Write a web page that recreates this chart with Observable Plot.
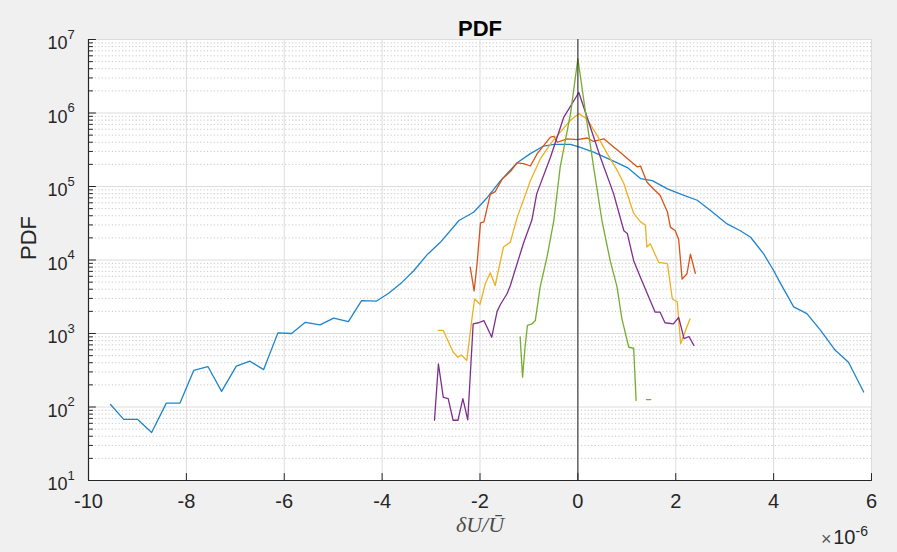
<!DOCTYPE html>
<html>
<head>
<meta charset="utf-8">
<script src="https://cdn.jsdelivr.net/npm/d3@7"></script>
<script src="https://cdn.jsdelivr.net/npm/@observablehq/plot@0.6"></script>
<style>
  html, body { margin: 0; padding: 0; background: #f0f0f0; }
  #chart svg { display: block; }
</style>
</head>
<body>
<div id="chart"></div>
<script>
// ---- tick labels ----
const xTicks = [-10, -8, -6, -4, -2, 0, 2, 4, 6];
const yExps = [1, 2, 3, 4, 5, 6, 7];
const yTicks = [1e1, 1e2, 1e3, 1e4, 1e5, 1e6, 1e7];

// ---- series (x in units of 1e-6) ----
const blueX = [-9.55, -9.28, -9.0, -8.71, -8.41, -8.13, -7.85, -7.56, -7.28, -6.98, -6.70, -6.42, -6.13, -5.85, -5.57, -5.27, -4.99, -4.69, -4.42, -4.12, -3.86, -3.59, -3.35, -3.07, -2.81, -2.43, -2.13, -1.85, -1.58, -1.24, -0.97, -0.70, -0.49, -0.15, 0.02, 0.32, 0.73, 1.01, 1.28, 1.52, 1.83, 2.10, 2.44, 2.71, 3.05, 3.32, 3.53, 3.80, 4.00, 4.14, 4.41, 4.68, 4.96, 5.26, 5.53, 5.84];
const blueY = [108, 68, 68, 45, 113, 113, 314, 355, 163, 359, 420, 323, 1020, 1000, 1420, 1310, 1620, 1450, 2800, 2750, 3550, 5000, 7200, 12000, 17400, 34500, 44700, 71000, 120000, 210000, 280000, 355000, 375000, 375000, 345000, 293000, 222000, 181000, 128000, 120000, 93000, 79000, 65000, 47000, 31000, 25000, 20400, 12000, 7200, 4800, 2300, 1860, 1100, 590, 406, 160];

const orangeX = [-2.20, -2.12, -2.06, -1.99, -1.92, -1.79, -1.69, -1.55, -1.38, -1.24, -1.11, -0.97, -0.83, -0.70, -0.56, -0.49, -0.42, -0.22, -0.01, 0.19, 0.32, 0.53, 0.73, 0.87, 1.01, 1.21, 1.28, 1.41, 1.54, 1.68, 1.83, 1.89, 1.99, 2.06, 2.13, 2.23, 2.30, 2.40];
const orangeY = [8000, 3800, 8900, 32000, 33000, 78000, 85000, 125000, 160000, 210000, 205000, 190000, 280000, 360000, 470000, 480000, 400000, 445000, 435000, 457000, 410000, 445000, 345000, 290000, 240000, 185000, 190000, 115000, 93000, 76000, 45000, 28000, 25000, 19000, 5500, 6500, 12000, 6600];

const yellowX = [-2.85, -2.75, -2.55, -2.45, -2.38, -2.27, -2.17, -2.11, -2.00, -1.89, -1.79, -1.69, -1.52, -1.38, -1.24, -0.97, -0.77, -0.56, -0.36, -0.15, 0.02, 0.19, 0.39, 0.60, 0.80, 0.94, 1.14, 1.28, 1.38, 1.41, 1.48, 1.65, 1.83, 1.93, 2.03, 2.10, 2.20, 2.29];
const yellowY = [1100, 1100, 560, 475, 510, 430, 1500, 2950, 2500, 4800, 6700, 4500, 15000, 17500, 38000, 120000, 235000, 380000, 550000, 800000, 980000, 820000, 500000, 280000, 167000, 110000, 43000, 33000, 30000, 15000, 16600, 9300, 8900, 2950, 2700, 725, 1100, 1580];

const purpleX = [-2.93, -2.85, -2.75, -2.65, -2.55, -2.45, -2.35, -2.25, -2.14, -2.03, -1.92, -1.76, -1.65, -1.58, -1.45, -1.38, -1.24, -1.11, -0.94, -0.84, -0.56, -0.29, 0.02, 0.19, 0.46, 0.73, 0.94, 1.01, 1.14, 1.28, 1.48, 1.58, 1.68, 1.78, 1.95, 2.06, 2.17, 2.27, 2.37];
const purpleY = [66, 385, 135, 130, 66, 66, 130, 67, 1350, 1400, 1500, 890, 2000, 2500, 3450, 4500, 9000, 17000, 35000, 80000, 250000, 870000, 1900000, 870000, 250000, 80000, 25000, 23000, 9800, 5800, 2800, 1950, 1950, 1400, 1350, 1650, 850, 910, 690];

const greenX = [-1.18, -1.13, -1.08, -1.03, -0.94, -0.87, -0.77, -0.63, -0.49, -0.36, -0.15, 0.00, 0.16, 0.32, 0.49, 0.66, 0.80, 0.90, 1.04, 1.14, 1.19, 1.30, 1.40, 1.49];
const greenY = [900, 255, 650, 1290, 1350, 1500, 4300, 11000, 35000, 186000, 980000, 5500000, 980000, 186000, 35000, 9800, 4300, 1580, 650, 630, 123, null, 126, 126];

const seriesNames = ["s1", "s2", "s3", "s4", "s5"];
const seriesColors = ["#1f84cc", "#D95319", "#EDB120", "#7E2F8E", "#77AC30"];
const seriesX = [blueX, orangeX, yellowX, purpleX, greenX];
const seriesY = [blueY, orangeY, yellowY, purpleY, greenY];

const data = [];
seriesNames.forEach((name, s) => {
  seriesX[s].forEach((x, i) => data.push({series: name, x, y: seriesY[s][i]}));
});

const minorY = [];
for (let e = 1; e < 7; e++) for (let k = 2; k <= 9; k++) minorY.push(k * Math.pow(10, e));

const sans = "'Liberation Sans', Arial, Helvetica, sans-serif";
const ink = "#262626";
const tickShape = {draw(context, l) { context.moveTo(0, 0); context.lineTo(0, -l); }};

const chart = Plot.plot({
  width: 897,
  height: 552,
  marginLeft: 88,
  marginRight: 26,
  marginTop: 39,
  marginBottom: 72,
  x: {domain: [-10, 6], axis: null},
  y: {type: "log", domain: [10, 1e7], axis: null},
  color: {domain: seriesNames, range: seriesColors},
  style: {background: "#f0f0f0", fontFamily: sans, overflow: "visible"},
  marks: [
    Plot.frame({fill: "white"}),
    // minor grid
    Plot.ruleY(minorY, {stroke: "#c8c8c8", strokeDasharray: "1.2,2.2", strokeWidth: 1}),
    // major grid
    Plot.ruleY(yTicks, {stroke: "#dcdcdc", strokeWidth: 1}),
    Plot.ruleX(xTicks, {stroke: "#dcdcdc", strokeWidth: 1}),
    // series
    Plot.line(data, {
      x: "x",
      y: d => (d.y == null ? NaN : d.y),
      z: "series",
      stroke: "series",
      strokeWidth: 1.3
    }),
    // x = 0 line
    Plot.ruleX([0], {stroke: "#222222", strokeWidth: 1}),
    // axes lines
    Plot.ruleX([-10], {stroke: ink, strokeWidth: 1.2}),
    Plot.ruleY([10], {stroke: ink, strokeWidth: 1.2}),
    // ticks (inward)
    Plot.vector(yTicks, {y: d => d, frameAnchor: "left", length: 7, rotate: 90, anchor: "start", shape: tickShape, stroke: ink, strokeWidth: 1}),
    Plot.vector(minorY, {y: d => d, frameAnchor: "left", length: 4, rotate: 90, anchor: "start", shape: tickShape, stroke: ink, strokeWidth: 1}),
    Plot.vector(xTicks, {x: d => d, frameAnchor: "bottom", length: 7, rotate: 0, anchor: "start", shape: tickShape, stroke: ink, strokeWidth: 1}),
    // y tick labels 10^n
    Plot.text(yTicks, {y: d => d, frameAnchor: "left", text: () => "10", textAnchor: "end", dx: -21, dy: 4, fontSize: 18, fill: ink}),
    Plot.text(yTicks, {y: d => d, frameAnchor: "left", text: (d, i) => String(yExps[i]), textAnchor: "start", dx: -21, dy: -5, fontSize: 13, fill: ink}),
    // x tick labels
    Plot.text(xTicks, {x: d => d, frameAnchor: "bottom", text: d => String(d), dy: 27, fontSize: 20, fill: ink}),
    // title
    Plot.text(["PDF"], {frameAnchor: "top", text: d => d, dy: -19, fontSize: 22, fontWeight: "bold", fill: "#000"}),
    // y label
    Plot.text(["PDF"], {frameAnchor: "left", text: d => d, rotate: -90, dx: -60, fontSize: 22, fill: ink}),
    // x label
    Plot.text(["δU/Ū"], {frameAnchor: "bottom", text: d => d, dy: 51, fontSize: 22, fontStyle: "italic", fontFamily: "'Liberation Serif', 'DejaVu Serif', serif", fill: "#4a4a4a"}),
    // exponent multiplier
    Plot.text(["×"], {frameAnchor: "bottom-right", text: d => d, textAnchor: "end", dx: -40, dy: 64, fontSize: 18, fill: "#555"}),
    Plot.text(["10"], {frameAnchor: "bottom-right", text: d => d, textAnchor: "end", dx: -16, dy: 63, fontSize: 20, fill: ink}),
    Plot.text(["-6"], {frameAnchor: "bottom-right", text: d => d, textAnchor: "start", dx: -16, dy: 55, fontSize: 14, fill: ink})
  ]
});

document.getElementById("chart").appendChild(chart);
</script>
</body>
</html>
